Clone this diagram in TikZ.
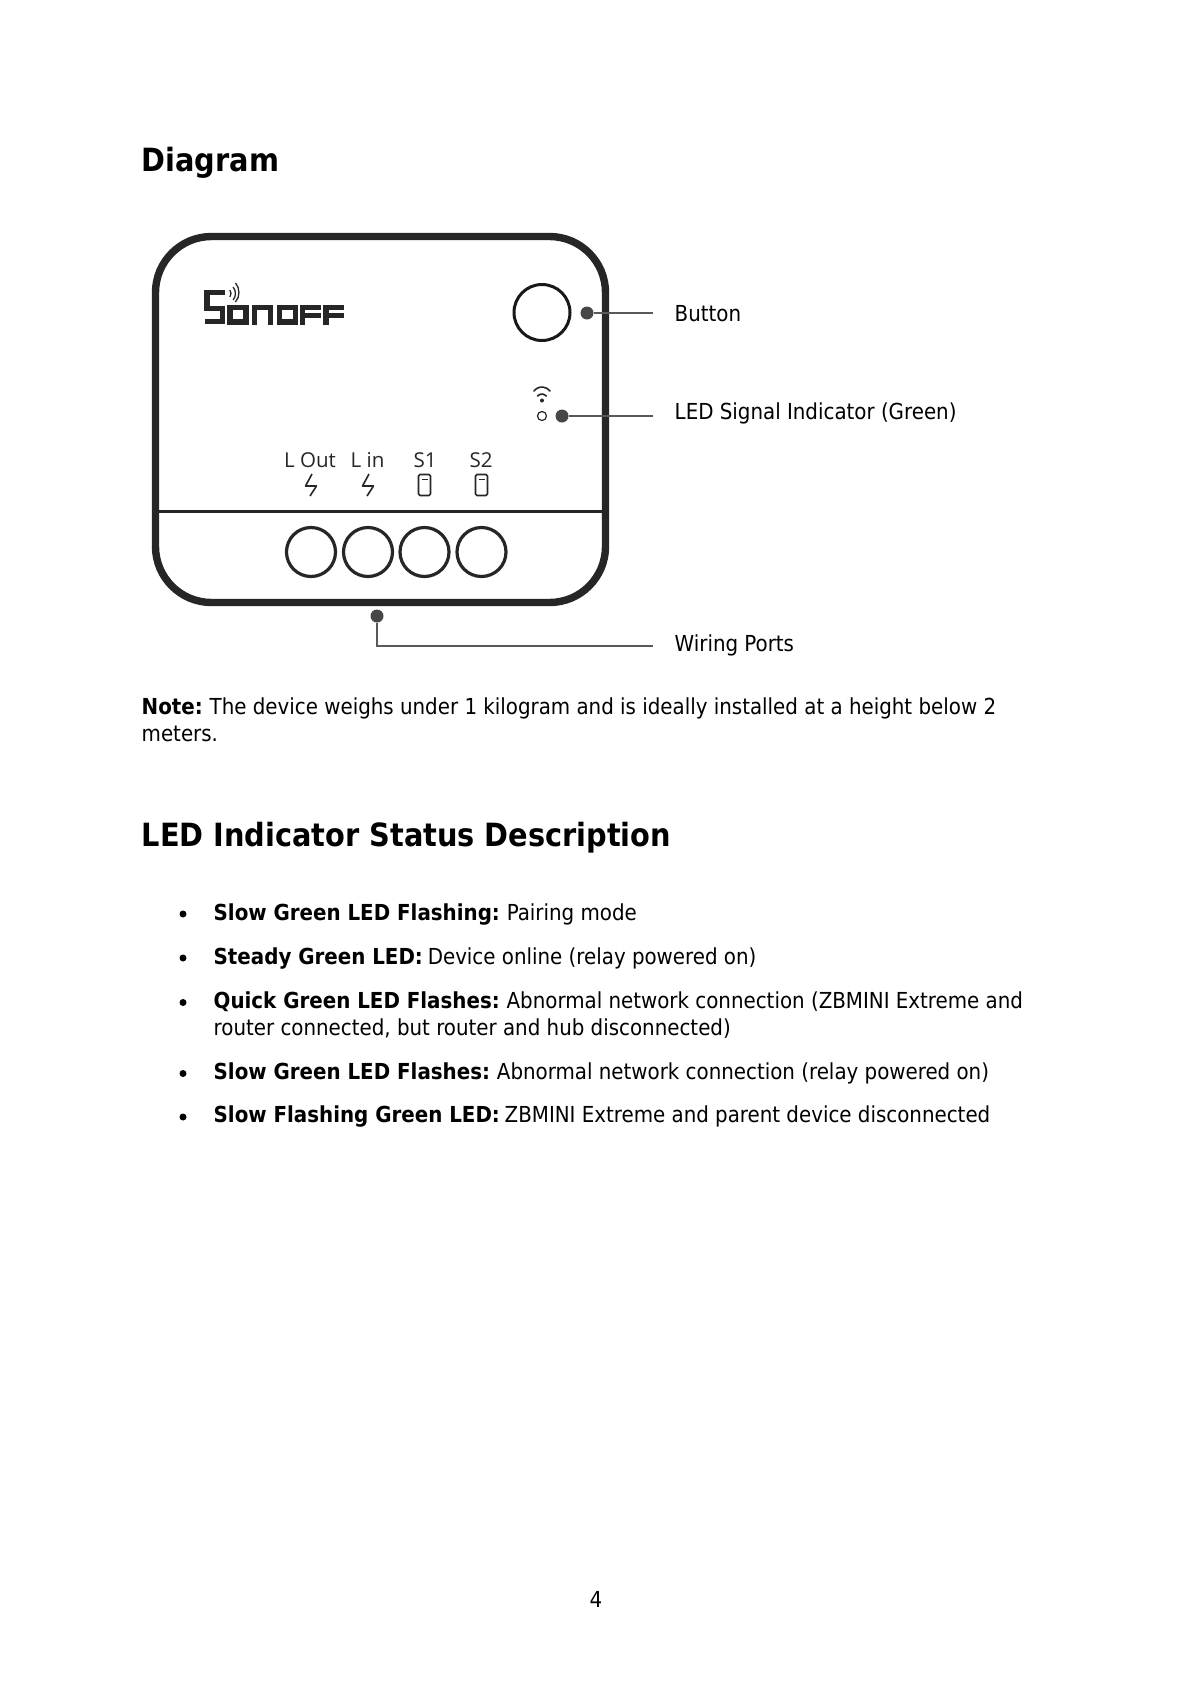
\documentclass[tikz,border=0pt]{standalone}
\usepackage{fontspec}
\setmainfont{DejaVu Sans Condensed}
\newfontfamily\devfont{Open Sans}
\newcommand{\lbold}[1]{\textbf{#1}\kern-1.5pt\relax}
\usetikzlibrary{positioning}

\begin{document}
\begin{tikzpicture}[
		x=1pt, y=-1pt
		,txt/.style={anchor=base west, inner sep=0pt, font=\fontsize{22.05}{26}\selectfont}
		,hd/.style={anchor=base west, inner sep=0pt, font=\fontsize{32}{38}\selectfont\bfseries}
		,bul/.style={circle, fill=black, inner sep=0pt, minimum width=7pt}
		,devlbl/.style={anchor=base, inner sep=0pt, text=black!85, font=\devfont\fontsize{20.5}{24}\selectfont}
		,port/.style={circle, draw=black!85, line width=3.2pt, minimum width=49pt, inner sep=0pt}
		,dotmark/.style={circle, fill=black!72, inner sep=0pt, minimum width=13pt}
		,lead/.style={draw=black!65, line width=1.4pt}
		,ic/.style={draw=black!85, line width=1.6pt, line join=round}
		,logo/.style={draw=black!85, line width=5.2pt}
	]
	\useasboundingbox (0,0) rectangle (1191,1684);
	\fill[white] (0,0) rectangle (1191,1684);

	\node [hd] (diagram) at (141.5,171.5) {Diagram};

	% device
	\draw [draw=black!85, line width=7.4pt, rounded corners=56pt] (155.5,236.5) rectangle (605.5,602.5);
	\draw [draw=black!85, line width=2.6pt] (154,511.5) -- (607,511.5);
	\node [circle, draw=black!90, line width=3pt, minimum width=56pt, inner sep=0pt] (btn) at (542,312.5) {};
	\node [circle, draw=black!85, line width=1.2pt, minimum width=9pt, inner sep=0pt] (led) at (542,416) {};
	\fill [black!85] (542,400.5) circle (2pt);
	\draw [ic, line cap=round] (534,391) arc (143:37:10pt);
	\draw [ic, line cap=round] (537.5,396) arc (138:42:6pt);

	% logo
	\draw [logo] (225,292.5) -- (207,292.5) -- (207,308.5) -- (222.5,308.5) -- (222.5,321.5) -- (204.5,321.5);
	\draw [logo] (230,307.5) rectangle (246,322);
	\draw [logo] (254.5,324.5) -- (254.5,307.5) -- (270.5,307.5) -- (270.5,324.5);
	\draw [logo] (279.5,307.5) rectangle (295.5,322);
	\draw [logo] (302.5,324.5) -- (302.5,307.5) -- (321,307.5) (302.5,315.5) -- (321,315.5);
	\draw [logo] (326,324.5) -- (326,307.5) -- (344,307.5) (326,315.5) -- (344,315.5);
	\draw [black!85, line width=1.3pt] (229.9,297) arc (-35:35:6.1pt);
	\draw [black!85, line width=1.3pt] (233.1,300) arc (-40:40:10.1pt);
	\draw [black!85, line width=1.3pt] (235.5,302) arc (-40:40:14.8pt);

	\node [devlbl] (lout) at (310,467.5) {L Out};
	\node [devlbl] (lin) at (367.5,467.5) {L in};
	\node [devlbl] (sone) at (425,467.5) {S1};
	\node [devlbl] (stwo) at (481,467.5) {S2};

	\foreach \n/\x in {a/311,b/368,c/424.5,d/481.5} {
		\node [port] (p\n) at (\x,552) {};
	}
	\foreach \x in {310,367} {
		\draw [ic] (\x+2,474) -- (\x-4.5,486) -- (\x+6.5,486) -- (\x,496);
	}
	\foreach \x in {424.5,481.5} {
		\draw [ic, rounded corners=1.5pt] (\x-6,474.5) rectangle (\x+6,495.5);
		\draw [ic] (\x-3,479.5) -- (\x+3,479.5);
	}

	% callouts
	\node [dotmark] (btndot) at (587,313) {};
	\node [dotmark] (leddot) at (562,416) {};
	\node [dotmark] (wiredot) at (377,616) {};
	\coordinate (btnend) at (653,313);
	\coordinate (ledend) at (653,416);
	\coordinate (wireend) at (653,646);
	\draw [lead] (btndot) -- (btnend);
	\draw [lead] (leddot) -- (ledend);
	\draw [lead] (wiredot) |- (wireend);
	\node [txt] (btnlbl) at (674.5,321) {Button};
	\node [txt] (ledlbl) at (674.5,419.5) {LED Signal Indicator (Green)};
	\node [txt] (wirelbl) at (674.5,651) {Wiring Ports};

	% note
	\node [txt] (note) at (141.5,714) {\lbold{Note:} The device weighs under 1 kilogram and is ideally installed at a height below 2};
	\node [txt] (notetwo) at (141.5,741) {meters.};

	\node [hd] (ledhd) at (141.5,846) {LED Indicator Status Description};

	% list
	\foreach \n/\y in {a/914,b/958,c/1002.5,d/1073.5,e/1117} {
		\node [bul] (bul\n) at (183,\y) {};
	}
	\node [txt] (ia) at (213.5,920) {\lbold{Slow Green LED Flashing:} Pairing mode};
	\node [txt] (ib) at (213.5,964) {\lbold{Steady Green LED:} Device online (relay powered on)};
	\node [txt] (ic) at (213.5,1008) {\lbold{Quick Green LED Flashes:} Abnormal network connection (ZBMINI Extreme and};
	\node [txt] (ic2) at (213.5,1035) {router connected, but router and hub disconnected)};
	\node [txt] (id) at (213.5,1079) {\lbold{Slow Green LED Flashes:} Abnormal network connection (relay powered on)};
	\node [txt] (ie) at (213.5,1122) {\lbold{Slow Flashing Green LED:} ZBMINI Extreme and parent device disconnected};

	\node [txt, anchor=base] (page) at (596,1607) {4};
\end{tikzpicture}
\end{document}
